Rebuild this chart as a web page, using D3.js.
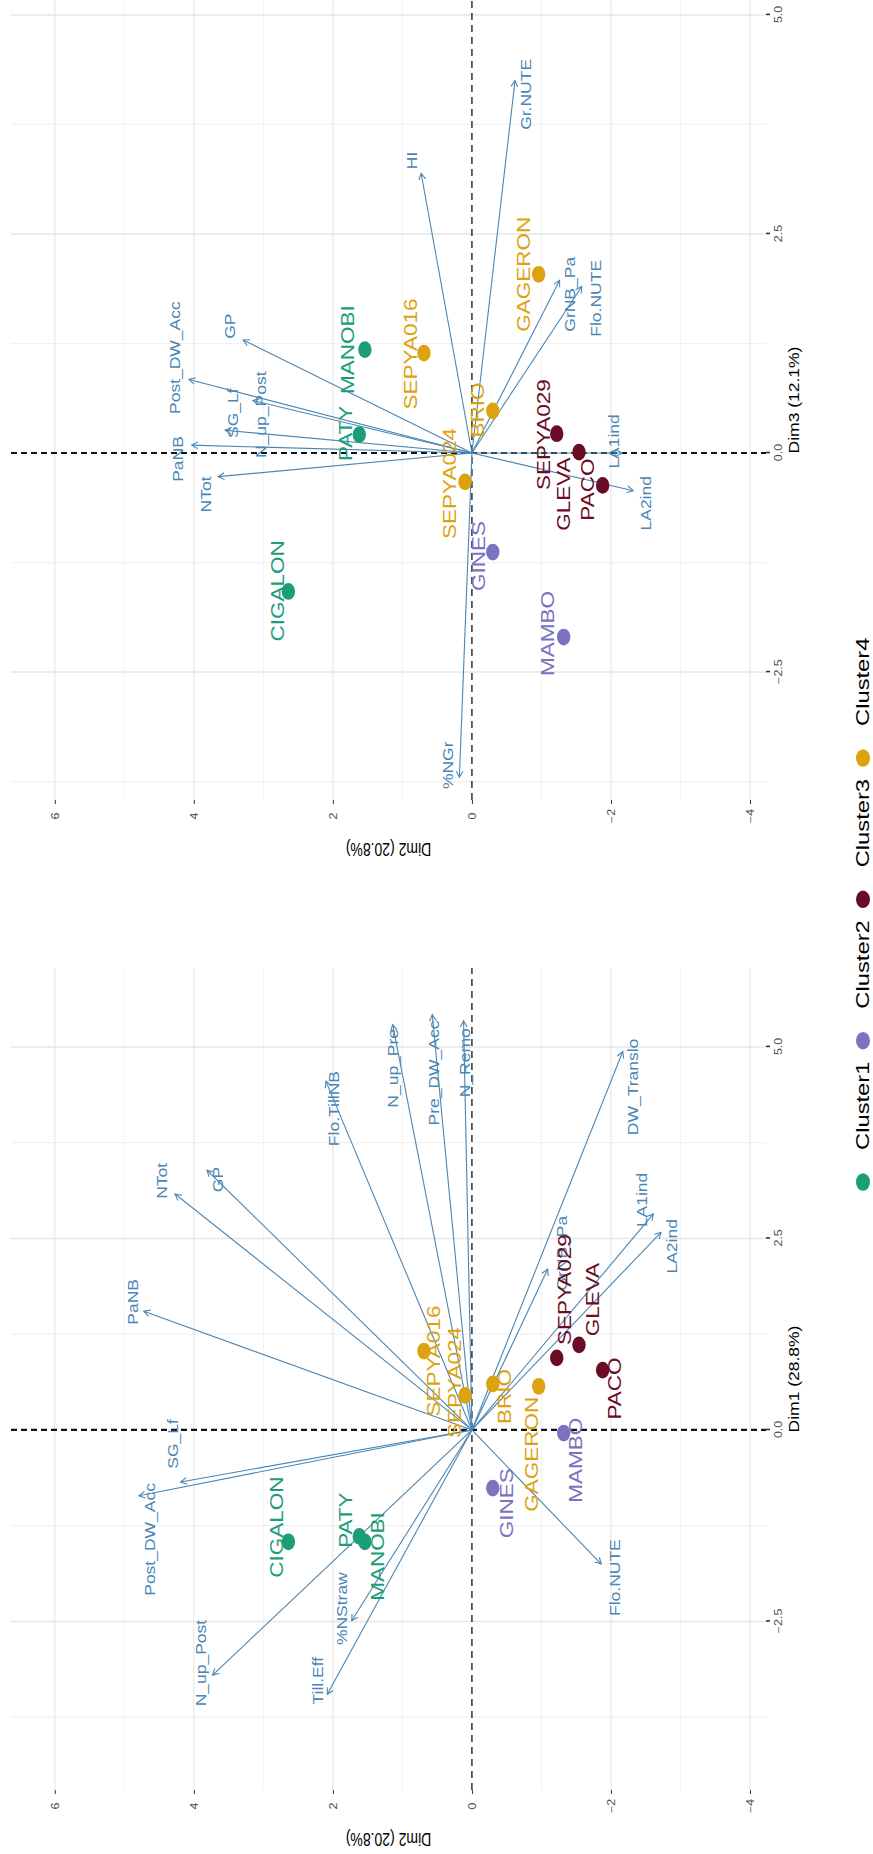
<!DOCTYPE html>
<html><head><meta charset="utf-8">
<script src="https://cdnjs.cloudflare.com/ajax/libs/d3/7.8.5/d3.min.js"></script>
<style>body{margin:0;background:#fff}svg{display:block}</style>
</head><body>
<svg id="c" width="873" height="1854"></svg>
<script>
// ---------------- DATA ----------------
const individuals = ["CIGALON","PATY","MANOBI","GINES","MAMBO","GAGERON","BRIO","SEPYA024","SEPYA016","SEPYA029","GLEVA","PACO"];
const indCluster  = ["Cluster1","Cluster1","Cluster1","Cluster2","Cluster2","Cluster4","Cluster4","Cluster4","Cluster4","Cluster3","Cluster3","Cluster3"];
const indDim1 = [-1.46,-1.39,-1.46,-0.76,-0.04,0.57,0.60,0.45,1.03,0.94,1.11,0.78];
const indDim2 = [2.64,1.62,1.54,-0.30,-1.32,-0.96,-0.30,0.10,0.69,-1.22,-1.54,-1.88];
const indDim3 = [-1.58,0.21,1.18,-1.13,-2.10,2.04,0.48,-0.33,1.14,0.22,0.01,-0.37];

const varsA     = ["DW_Translo","N_Remo","Pre_DW_Acc","N_up_Pre","Flo.TillNB","GP","NTot","PaNB","SG_Lf","Post_DW_Acc","N_up_Post","Till.Eff","%NStraw","Flo.NUTE","LA1ind","LA2ind","GrNB_Pa"];
const varsADim1 = [4.94,5.34,5.42,5.29,4.55,3.39,3.08,1.55,-0.68,-0.86,-3.20,-3.45,-2.49,-1.75,2.82,2.58,2.10];
const varsADim2 = [-2.17,0.12,0.57,1.14,2.10,3.81,4.27,4.72,4.19,4.79,3.73,2.08,1.73,-1.86,-2.61,-2.72,-1.09];

const varsB     = ["Gr.NUTE","HI","GrNB_Pa","Flo.NUTE","LA1ind","LA2ind","NTot","PaNB","SG_Lf","N_up_Post","Post_DW_Acc","GP","%NGr"];
const varsBDim3 = [4.25,3.19,1.97,1.90,0.00,-0.43,-0.27,0.09,0.26,0.60,0.84,1.29,-3.70];
const varsBDim2 = [-0.62,0.73,-1.26,-1.58,-2.16,-2.32,3.65,4.03,3.55,3.15,4.07,3.29,0.18];

const clusters = ["Cluster1","Cluster2","Cluster3","Cluster4"];
const dim2Ticks = [-4,-2,0,2,4,6];
const dimXTicks = [-2.5,0,2.5,5];
const axisTitleDim1 = "Dim1 (28.8%)";
const axisTitleDim2 = "Dim2 (20.8%)";
const axisTitleDim3 = "Dim3 (12.1%)";

// ---------------- LAYOUT / STYLE ----------------
const clusterColors = {Cluster1:"#1B9E77",Cluster2:"#7B72C0",Cluster3:"#6B0C25",Cluster4:"#DDA30E"};
const varColor = "#4A86B4";
const K = 1.25;            // horizontal text/marker stretch (landscape x)
const FONT = "'Liberation Sans', Arial, Helvetica, sans-serif";

// label offsets in landscape px [dx, dy]
const indOffA = {CIGALON:[14.7,-11.7],PATY:[16.3,-13.9],MANOBI:[-14.7,12.8],GINES:[-15.2,13.9],MAMBO:[-27.2,12.2],
  GAGERON:[-68,-6.7],BRIO:[-12.5,11.7],SEPYA024:[13,-10],SEPYA016:[-10,10],SEPYA029:[68.3,8.3],GLEVA:[45.2,13.4],PACO:[-18.3,12.3]};
const indOffB = {CIGALON:[0.6,-10.4],PATY:[1.2,-13.9],MANOBI:[0,-16.7],GINES:[-3.9,-14],MAMBO:[3.6,-16],
  GAGERON:[0,-15],BRIO:[1,-15],SEPYA024:[-1.6,-15],SEPYA016:[-0.9,-13.3],SEPYA029:[-0.9,-13.4],GLEVA:[-42,-15],PACO:[-4.2,-14.4]};
const varOffA = {"DW_Translo":[-35.4,10.6],"N_Remo":[-41.9,1.1],"Pre_DW_Acc":[-58.3,1.7],"N_up_Pre":[-43.6,0],"Flo.TillNB":[-27.2,8.4],
  "GP":[-9.3,11.1],"NTot":[13.1,-12.8],"PaNB":[9.3,-11.1],"SG_Lf":[38.1,-7.2],"Post_DW_Acc":[-43.6,11.1],"N_up_Post":[12,-11.1],
  "Till.Eff":[13.6,-8.9],"%NStraw":[12,-9.5],"Flo.NUTE":[-13.6,13.9],"LA1ind":[14,-11.6],"LA2ind":[-14,10.7],"GrNB_Pa":[15.8,14.5]};
const varOffB = {"Gr.NUTE":[-13.8,11.2],"HI":[13,-9.5],"GrNB_Pa":[-13.9,11.1],"Flo.NUTE":[-11.8,13.9],"LA1ind":[11.6,-8.3],
  "LA2ind":[-12.6,13.4],"NTot":[-17.8,-12.3],"PaNB":[-13.9,-13.9],"SG_Lf":[17,8.4],"N_up_Post":[-14.3,8.4],
  "Post_DW_Acc":[21.8,-13.9],"GP":[13.8,-12.8],"%NGr":[11.9,-11.2]};

const W = 1854;
const svg = d3.select("#c");
svg.append("rect").attr("width",873).attr("height",1854).attr("fill","#fff");
// draw landscape figure, rotated -90deg
const g = svg.append("g").attr("transform",`translate(0,${W}) rotate(-90)`);

const yRange = [11, 766];
const ys = d3.scaleLinear().domain([6.63,-4.23]).range(yRange);
const dim2Minor = [-3,-1,1,3,5];

function st(x,y,extra){ return `translate(${x},${y}) scale(${K},1)` + (extra||""); }

function panel(cfg){
  const xs = d3.scaleLinear().domain(cfg.xDomain).range(cfg.xRange);
  const p = g.append("g");
  const [x0,x1] = cfg.xRange, [y0,y1] = yRange;
  const xMinor = [-3.75,-1.25,1.25,3.75].filter(v=>xs(v)>=x0 && xs(v)<=x1);

  // grid
  p.selectAll("line.gxm").data(xMinor).join("line").attr("class","gxm")
    .attr("x1",d=>xs(d)).attr("x2",d=>xs(d)).attr("y1",y0).attr("y2",y1)
    .attr("stroke","#f1f1f1").attr("stroke-width",1.2);
  p.selectAll("line.gym").data(dim2Minor).join("line").attr("class","gym")
    .attr("x1",x0).attr("x2",x1).attr("y1",d=>ys(d)).attr("y2",d=>ys(d))
    .attr("stroke","#f1f1f1").attr("stroke-width",0.9);
  p.selectAll("line.gx").data(dimXTicks.filter(v=>v!==0)).join("line").attr("class","gx")
    .attr("x1",d=>xs(d)).attr("x2",d=>xs(d)).attr("y1",y0).attr("y2",y1)
    .attr("stroke","#e6e6e6").attr("stroke-width",1.5);
  p.selectAll("line.gy").data(dim2Ticks.filter(v=>v!==0)).join("line").attr("class","gy")
    .attr("x1",x0).attr("x2",x1).attr("y1",d=>ys(d)).attr("y2",d=>ys(d))
    .attr("stroke","#e6e6e6").attr("stroke-width",1.1);

  // zero dashed lines
  p.append("line").attr("x1",xs(0)).attr("x2",xs(0)).attr("y1",y0).attr("y2",y1)
    .attr("stroke","#111").attr("stroke-width",2.2).attr("stroke-dasharray","6,4");
  p.append("line").attr("x1",x0).attr("x2",x1).attr("y1",ys(0)).attr("y2",ys(0))
    .attr("stroke","#111").attr("stroke-width",1.3).attr("stroke-dasharray","7,5");

  // variable arrows
  const vars = cfg.vars.map((n,i)=>({name:n, x:cfg.varX[i], y:cfg.varY[i]}));
  p.selectAll("line.arr").data(vars).join("line").attr("class","arr")
    .attr("x1",xs(0)).attr("y1",ys(0)).attr("x2",d=>xs(d.x)).attr("y2",d=>ys(d.y))
    .attr("stroke",varColor).attr("stroke-width",1.1);
  p.selectAll("path.head").data(vars).join("path").attr("class","head")
    .attr("d",d=>{
      const tx=xs(d.x), ty=ys(d.y), a=Math.atan2(ty-ys(0), tx-xs(0)), L=7, h=0.5;
      return `M${tx-L*Math.cos(a-h)},${ty-L*Math.sin(a-h)}L${tx},${ty}L${tx-L*Math.cos(a+h)},${ty-L*Math.sin(a+h)}`;
    }).attr("fill","none").attr("stroke",varColor).attr("stroke-width",1.1);
  p.selectAll("text.vl").data(vars).join("text").attr("class","vl")
    .attr("transform",d=>st(xs(d.x)+cfg.varOff[d.name][0], ys(d.y)+cfg.varOff[d.name][1]))
    .attr("text-anchor","middle").attr("dominant-baseline","central")
    .attr("font-family",FONT).attr("font-size",14).attr("fill",varColor).text(d=>d.name);

  // individuals
  const inds = individuals.map((n,i)=>({name:n, c:indCluster[i], x:cfg.indX[i], y:indDim2[i]}));
  p.selectAll("ellipse.pt").data(inds).join("ellipse").attr("class","pt")
    .attr("cx",d=>xs(d.x)).attr("cy",d=>ys(d.y)).attr("rx",6.7*K).attr("ry",6.7)
    .attr("fill",d=>clusterColors[d.c]);
  p.selectAll("text.il").data(inds).join("text").attr("class","il")
    .attr("transform",d=>st(xs(d.x)+cfg.indOff[d.name][0], ys(d.y)+cfg.indOff[d.name][1]))
    .attr("text-anchor","middle").attr("dominant-baseline","central")
    .attr("font-family",FONT).attr("font-size",18).attr("fill",d=>clusterColors[d.c]).text(d=>d.name);

  // x axis (bottom in landscape)
  const ax = p.append("g").attr("transform",`translate(0,${y1})`)
    .call(d3.axisBottom(xs).tickValues(dimXTicks).tickSize(4).tickFormat(d3.format(".1f")));
  ax.select(".domain").remove();
  ax.selectAll(".tick line").attr("stroke","#333").attr("stroke-width",1.6);
  ax.selectAll(".tick text").attr("y",null).attr("dy",null).attr("transform",st(0,12))
    .attr("dominant-baseline","central").attr("font-family",FONT).attr("font-size",10).attr("fill","#4d4d4d");
  // y axis (left in landscape)
  const ay = p.append("g").attr("transform",`translate(${x0},0)`)
    .call(d3.axisLeft(ys).tickValues(dim2Ticks).tickSize(4).tickFormat(d3.format("d")));
  ay.select(".domain").remove();
  ay.selectAll(".tick line").attr("stroke","#333").attr("stroke-width",1);
  ay.selectAll(".tick text").attr("x",null).attr("dy",null).attr("transform",st(-16,0))
    .attr("text-anchor","middle").attr("dominant-baseline","central")
    .attr("font-family",FONT).attr("font-size",10).attr("fill","#4d4d4d");

  // axis titles
  p.append("text").attr("transform",st((x0+x1)/2, y1+28)).attr("text-anchor","middle")
    .attr("dominant-baseline","central").attr("font-family",FONT).attr("font-size",14).attr("fill","#000")
    .text(cfg.xTitle);
  p.append("text").attr("transform",st(x0-49, (y0+y1)/2, " rotate(-90)")).attr("text-anchor","middle")
    .attr("dominant-baseline","central").attr("font-family",FONT).attr("font-size",14).attr("fill","#000")
    .text(axisTitleDim2);
}

panel({xDomain:[-4.70,6.03], xRange:[64,886], indX:indDim1, vars:varsA, varX:varsADim1, varY:varsADim2,
       varOff:varOffA, indOff:indOffA, xTitle:axisTitleDim1});
panel({xDomain:[-3.96,5.17], xRange:[1054,1854], indX:indDim3, vars:varsB, varX:varsBDim3, varY:varsBDim2,
       varOff:varOffB, indOff:indOffB, xTitle:axisTitleDim3});

// legend (bottom in landscape)
const leg = g.append("g");
const legX = d3.scalePoint().domain(clusters).range([672, 1096]);
leg.selectAll("ellipse").data(clusters).join("ellipse")
  .attr("cx",d=>legX(d)).attr("cy",863).attr("rx",7*K).attr("ry",7).attr("fill",d=>clusterColors[d]);
leg.selectAll("text").data(clusters).join("text")
  .attr("transform",d=>st(legX(d)+32,863)).attr("dominant-baseline","central")
  .attr("font-family",FONT).attr("font-size",19).attr("fill","#000").text(d=>d);
</script>
</body></html>
